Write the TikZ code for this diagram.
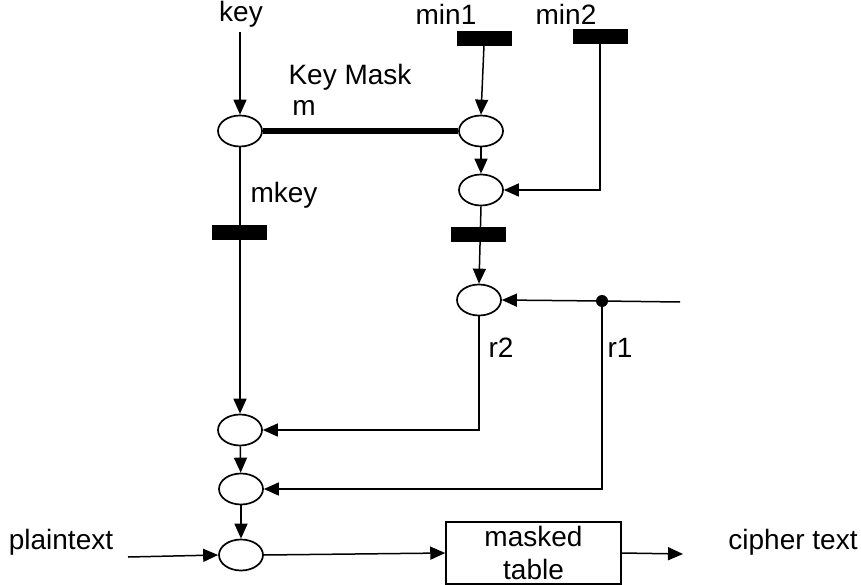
\documentclass[tikz,border=0pt]{standalone}
\usepackage{fontspec}
\setmainfont{Liberation Sans}
\usetikzlibrary{arrows.meta,shapes.geometric}
\begin{document}
\begin{tikzpicture}[x=1pt,y=-1pt,
  lbl/.style={inner sep=0pt,font=\fontsize{28}{32}\selectfont},
  place/.style={draw,ellipse,line width=1.7pt,minimum width=44pt,minimum height=31pt,inner sep=0pt},
  trans/.style={draw,fill=black,minimum width=54pt,minimum height=14pt,inner sep=0pt},
  arc/.style={line width=1.5pt,-{Triangle[length=15pt,width=13pt]}},
  ln/.style={line width=1.5pt},
  ]
\useasboundingbox (0,0) rectangle (861,585);
% labels
\node[lbl] (lkey) at (241,14) {key};
\node[lbl] (lmin1) at (446,14) {min1};
\node[lbl] (lmin2) at (566,14) {min2};
\node[lbl] (lmask) at (350,77) {Key Mask};
\node[lbl] (lm) at (304,108) {m};
\node[lbl] (lmkey) at (284,195) {mkey};
\node[lbl] (lr2) at (501,348) {r2};
\node[lbl] (lr1) at (620,348) {r1};
\node[lbl] (lplain) at (61,542) {plaintext};
\node[lbl] (lcipher) at (793,542) {cipher text};
% places
\node[place] (p1) at (240,131) {};
\node[place] (p2) at (481,131) {};
\node[place] (p3) at (481,190) {};
\node[place] (p4) at (479,300) {};
\node[place] (p5) at (240,430) {};
\node[place] (p6) at (241,489) {};
\node[place] (p7) at (241,555) {};
% box
\node[draw,line width=1.5pt,minimum width=175pt,minimum height=62pt,inner sep=0pt,
      align=center,font=\fontsize{28}{33}\selectfont] (box) at (533.5,553) {masked\\table};
% coordinates
\coordinate (keytop) at (240,32);
\coordinate (r1in) at (680,302);
\coordinate (plainstart) at (128,557);
\coordinate (cipherend) at (683,554);
\node[circle,fill=black,minimum size=12pt,inner sep=0pt] (dot) at (602,301) {};
% connectors
\draw[arc] (keytop) -- (p1);
\draw[line width=6pt] (p1.east) -- (p2.west);
\draw[arc] (p1.south) -- (p5.north);
\draw[arc] (484,45) -- (p2.north);
\draw[arc] (p2) -- (p3);
\draw[arc] (600,43) |- (p3.east);
\draw[arc] (p3.south) -- (p4.north);
\draw[ln] (r1in) -- (dot);
\draw[arc] (dot) -- (p4.east);
\draw[arc] (p4.south) |- (p5.east);
\draw[arc] (dot) |- (p6.east);
\draw[arc] (p5) -- (p6);
\draw[arc] (p6) -- (p7);
\draw[arc] (plainstart) -- (p7.west);
\draw[arc] (p7.east) -- (box.west);
\draw[arc] (box.east) -- (cipherend);
% transitions
\node[trans] (t1) at (484,38) {};
\node[trans] (t2) at (600,36) {};
\node[trans] (t3) at (239,232) {};
\node[trans] (t4) at (478,234) {};
\end{tikzpicture}
\end{document}
